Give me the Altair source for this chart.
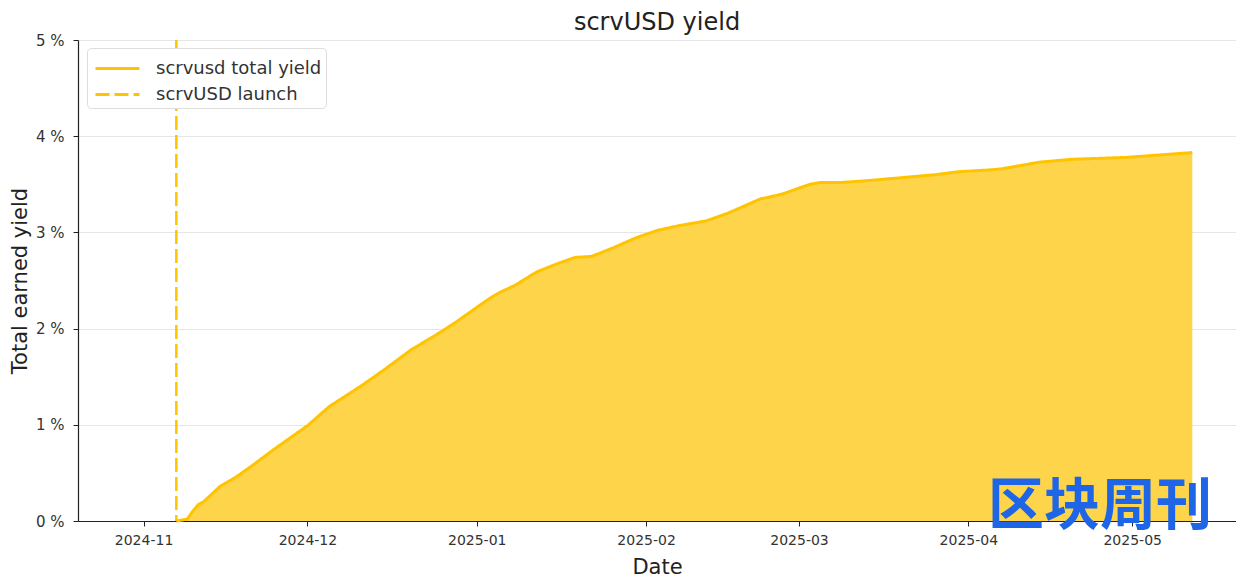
import altair as alt
import pandas as pd

# ---- data ----
dates = [
    "2024-11-07", "2024-11-09", "2024-11-10", "2024-11-11", "2024-11-12",
    "2024-11-15", "2024-11-18", "2024-11-21", "2024-11-25", "2024-11-28",
    "2024-12-01", "2024-12-05", "2024-12-11", "2024-12-15", "2024-12-20",
    "2024-12-25", "2024-12-28", "2025-01-03", "2025-01-05", "2025-01-08",
    "2025-01-12", "2025-01-16", "2025-01-19", "2025-01-22", "2025-01-26",
    "2025-01-30", "2025-02-03", "2025-02-07", "2025-02-12", "2025-02-16",
    "2025-02-22", "2025-02-23", "2025-02-26", "2025-03-03", "2025-03-05",
    "2025-03-09", "2025-03-14", "2025-03-24", "2025-03-26", "2025-03-30",
    "2025-04-05", "2025-04-07", "2025-04-14", "2025-04-20", "2025-04-30",
    "2025-05-12",
]
yield_pct = [
    0.00, 0.02, 0.10, 0.17, 0.20,
    0.36, 0.46, 0.58, 0.75, 0.87,
    0.99, 1.19, 1.41, 1.57, 1.78,
    1.95, 2.06, 2.30, 2.37, 2.45,
    2.59, 2.68, 2.74, 2.75, 2.84,
    2.94, 3.02, 3.07, 3.12, 3.20,
    3.35, 3.36, 3.40, 3.50, 3.52,
    3.52, 3.54, 3.59, 3.60, 3.63,
    3.65, 3.66, 3.73, 3.76, 3.78,
    3.83,
]
series_names = ["scrvusd total yield", "scrvUSD launch"]
launch_date = ["2024-11-07"]
y_ticks = [0, 1, 2, 3, 4, 5]
x_ticks = [(2024, 11), (2024, 12), (2025, 1), (2025, 2), (2025, 3), (2025, 4), (2025, 5)]

GOLD = "#FFC300"
FILL = "#FED44B"
FONT = "DejaVu Sans"

df = pd.DataFrame({"date": dates, "value": yield_pct, "series": series_names[0]})
launch_df = pd.DataFrame({"date": launch_date, "series": [series_names[1]]})

x_scale = alt.Scale(
    type="utc",
    domain=[alt.DateTime(year=2024, month=10, date=20, utc=True),
            alt.DateTime(year=2025, month=5, date=20, utc=True)],
)
x_enc = alt.X(
    "date:T",
    scale=x_scale,
    title="Date",
    axis=alt.Axis(
        labelExpr="utcFormat(datum.value, '%Y-%m')",
        values=[alt.DateTime(year=y, month=m, date=1, utc=True) for y, m in x_ticks],
        grid=False, labelFontSize=14, titleFontSize=21, titlePadding=9,
        labelPadding=7, tickSize=5, labelFlush=False,
    ),
)
y_enc = alt.Y(
    "value:Q",
    scale=alt.Scale(domain=[0, 5], nice=False),
    title="Total earned yield",
    axis=alt.Axis(
        values=y_ticks, labelExpr="datum.value + ' %'", grid=True,
        gridColor="#e6e6e6", labelFontSize=15, titleFontSize=21,
        titlePadding=5, labelPadding=9, tickSize=5,
    ),
)

color_scale = alt.Scale(domain=series_names, range=[GOLD, GOLD])
dash_scale = alt.Scale(domain=series_names, range=[[1, 0], [14, 5]])
legend = alt.Legend(
    title=None, orient="none", legendX=9, legendY=8,
    symbolType="M-0.8,0H2.13", symbolSize=900, symbolStrokeWidth=3,
    labelFontSize=18, labelColor="#333333", rowPadding=0, labelLimit=400,
    fillColor="white", strokeColor="#dddddd", cornerRadius=4,
    padding=4, labelOffset=32,
)

area = alt.Chart(df).mark_area(color=FILL, opacity=1).encode(x=x_enc, y=y_enc)
line = alt.Chart(df).mark_line(strokeWidth=3).encode(
    x=x_enc, y=y_enc,
    color=alt.Color("series:N", scale=color_scale, legend=legend),
    strokeDash=alt.StrokeDash("series:N", scale=dash_scale, legend=legend),
)
rule = alt.Chart(launch_df).mark_rule(strokeWidth=2.5).encode(
    x=alt.X("date:T", scale=x_scale),
    color=alt.Color("series:N", scale=color_scale, legend=legend),
    strokeDash=alt.StrokeDash("series:N", scale=dash_scale, legend=legend),
)

watermark = alt.Chart(pd.DataFrame({"t": ["区块周刊"]})).mark_text(
    font="Noto Sans CJK SC", fontSize=56, fontWeight="bold", color="#1E66E6",
    align="left", baseline="middle",
).encode(text="t:N", x=alt.value(910), y=alt.value(467))

chart = alt.layer(area, line, rule, watermark).properties(
    width=1158, height=481,
    title=alt.TitleParams("scrvUSD yield", fontSize=24, font=FONT,
                          fontWeight="normal", color="#222222", anchor="middle", offset=-2),
    autosize=alt.AutoSizeParams(type="none"),
    padding={"left": 70, "top": 32, "right": 0, "bottom": 56},
).configure_view(stroke=None).configure_axis(
    labelFont=FONT, titleFont=FONT, labelColor="#333333", titleColor="#222222",
    domainColor="#222222", tickColor="#222222", titleFontWeight="normal",
    domainWidth=1.2,
).configure_legend(labelFont=FONT)

chart.save("out.html", embed_options={"renderer": "svg", "actions": False})
